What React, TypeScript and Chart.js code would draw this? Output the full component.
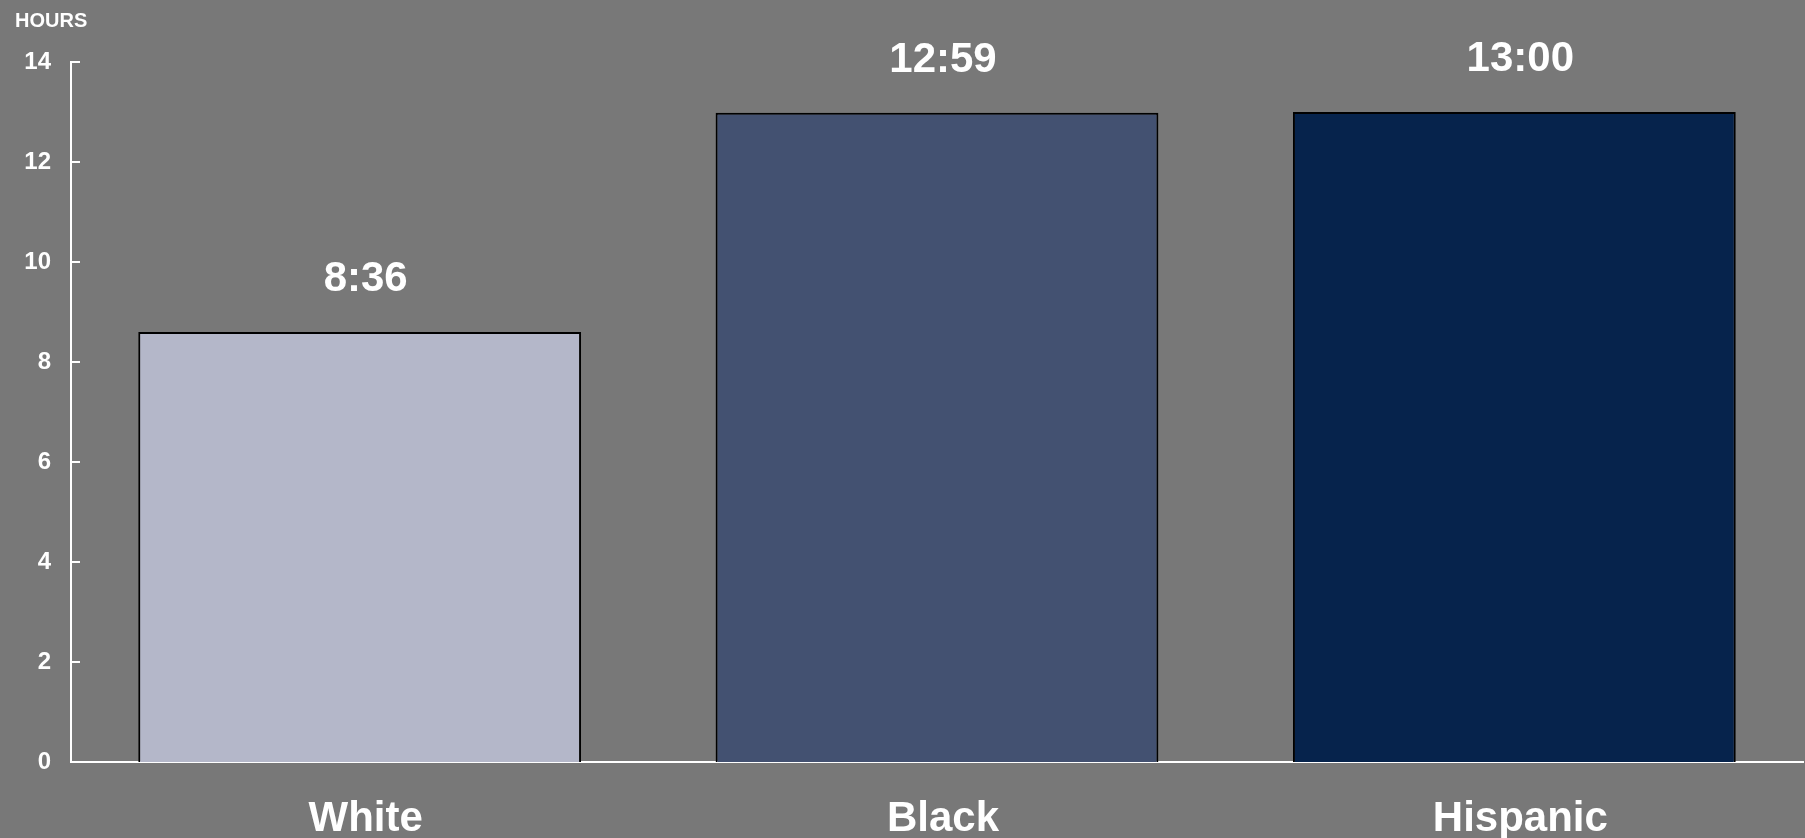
import { useEffect, useRef } from "react";
import { Chart, registerables } from "chart.js";

Chart.register(...registerables);

// Average hours per group, written as h:mm
const groups = ["White", "Black", "Hispanic"];
const avgTimes = ["8:36", "12:59", "13:00"];
const barColors = ["#b4b7c9", "#435171", "#06234c"];
const yTickValues = [0, 2, 4, 6, 8, 10, 12, 14];
const unitLabel = "HOURS";

const FONT = "'Liberation Sans', Arial, Helvetica, sans-serif";
const BG = "#787878";
const LABEL_SHIFT = 6; // text sits slightly right of the bar centre

const toHours = (t: string) => {
  const [h, m] = t.split(":").map(Number);
  return h + m / 60;
};
const hours = avgTimes.map(toHours);

const backgroundPlugin = {
  id: "bgFill",
  beforeDraw(chart: any) {
    const { ctx, width, height } = chart;
    ctx.save();
    ctx.fillStyle = BG;
    ctx.fillRect(0, 0, width, height);
    ctx.restore();
  },
};

// Short tick marks pointing into the plot, the unit caption and category names
const axisDecorPlugin = {
  id: "axisDecor",
  afterDraw(chart: any) {
    const { ctx, chartArea } = chart;
    const y = chart.scales.y;
    const x = chart.scales.x;
    ctx.save();
    ctx.strokeStyle = "#ffffff";
    ctx.lineWidth = 2;
    yTickValues.forEach((v) => {
      const py = Math.round(y.getPixelForValue(v));
      ctx.beginPath();
      ctx.moveTo(chartArea.left, py);
      ctx.lineTo(chartArea.left + 9, py);
      ctx.stroke();
    });
    ctx.fillStyle = "#ffffff";
    ctx.font = `bold 20px ${FONT}`;
    ctx.textAlign = "left";
    ctx.textBaseline = "alphabetic";
    ctx.fillText(unitLabel, 15, 27);

    ctx.font = `bold 42px ${FONT}`;
    ctx.textAlign = "center";
    groups.forEach((g, i) => {
      ctx.fillText(g, x.getPixelForValue(i) + LABEL_SHIFT, chartArea.bottom + 69);
    });
    ctx.restore();
  },
};

const valueLabelPlugin = {
  id: "valueLabels",
  afterDatasetsDraw(chart: any) {
    const { ctx } = chart;
    const meta = chart.getDatasetMeta(0);
    ctx.save();
    ctx.fillStyle = "#ffffff";
    ctx.font = `bold 42px ${FONT}`;
    ctx.textAlign = "center";
    ctx.textBaseline = "alphabetic";
    meta.data.forEach((bar: any, i: number) => {
      ctx.fillText(avgTimes[i], bar.x + LABEL_SHIFT, bar.y - 41);
    });
    ctx.restore();
  },
};

export default function App() {
  const canvasRef = useRef<HTMLCanvasElement | null>(null);

  useEffect(() => {
    document.body.style.margin = "0";
    document.body.style.background = BG;
    const canvas = canvasRef.current;
    if (!canvas) return;
    const chart = new Chart(canvas, {
      type: "bar",
      data: {
        labels: groups,
        datasets: [
          {
            data: hours,
            backgroundColor: barColors,
            borderColor: "#000000",
            borderWidth: 2,
            barPercentage: 0.767,
            categoryPercentage: 1,
          },
        ],
      },
      options: {
        animation: false,
        responsive: false,
        devicePixelRatio: 1,
        layout: { padding: { top: 62, right: 2, left: 0, bottom: 0 } },
        plugins: {
          legend: { display: false },
          tooltip: { enabled: false },
          title: { display: false },
        },
        scales: {
          x: {
            z: 1,
            grid: { display: false, drawTicks: false },
            border: { display: true, color: "#ffffff", width: 2 },
            ticks: { display: false },
            afterFit(scale: any) {
              scale.height = 76;
            },
          },
          y: {
            min: 0,
            max: 14,
            grid: { display: false, drawTicks: false },
            border: { display: true, color: "#ffffff", width: 2 },
            ticks: {
              stepSize: 2,
              color: "#ffffff",
              font: { family: FONT, size: 24, weight: "bold" },
              padding: 20,
            },
            afterFit(scale: any) {
              scale.width = 71;
            },
          },
        },
      },
      plugins: [backgroundPlugin, axisDecorPlugin, valueLabelPlugin],
    });
    return () => chart.destroy();
  }, []);

  return (
    <div style={{ width: 1805, height: 838 }}>
      <canvas ref={canvasRef} width={1805} height={838} style={{ display: "block" }} />
    </div>
  );
}
